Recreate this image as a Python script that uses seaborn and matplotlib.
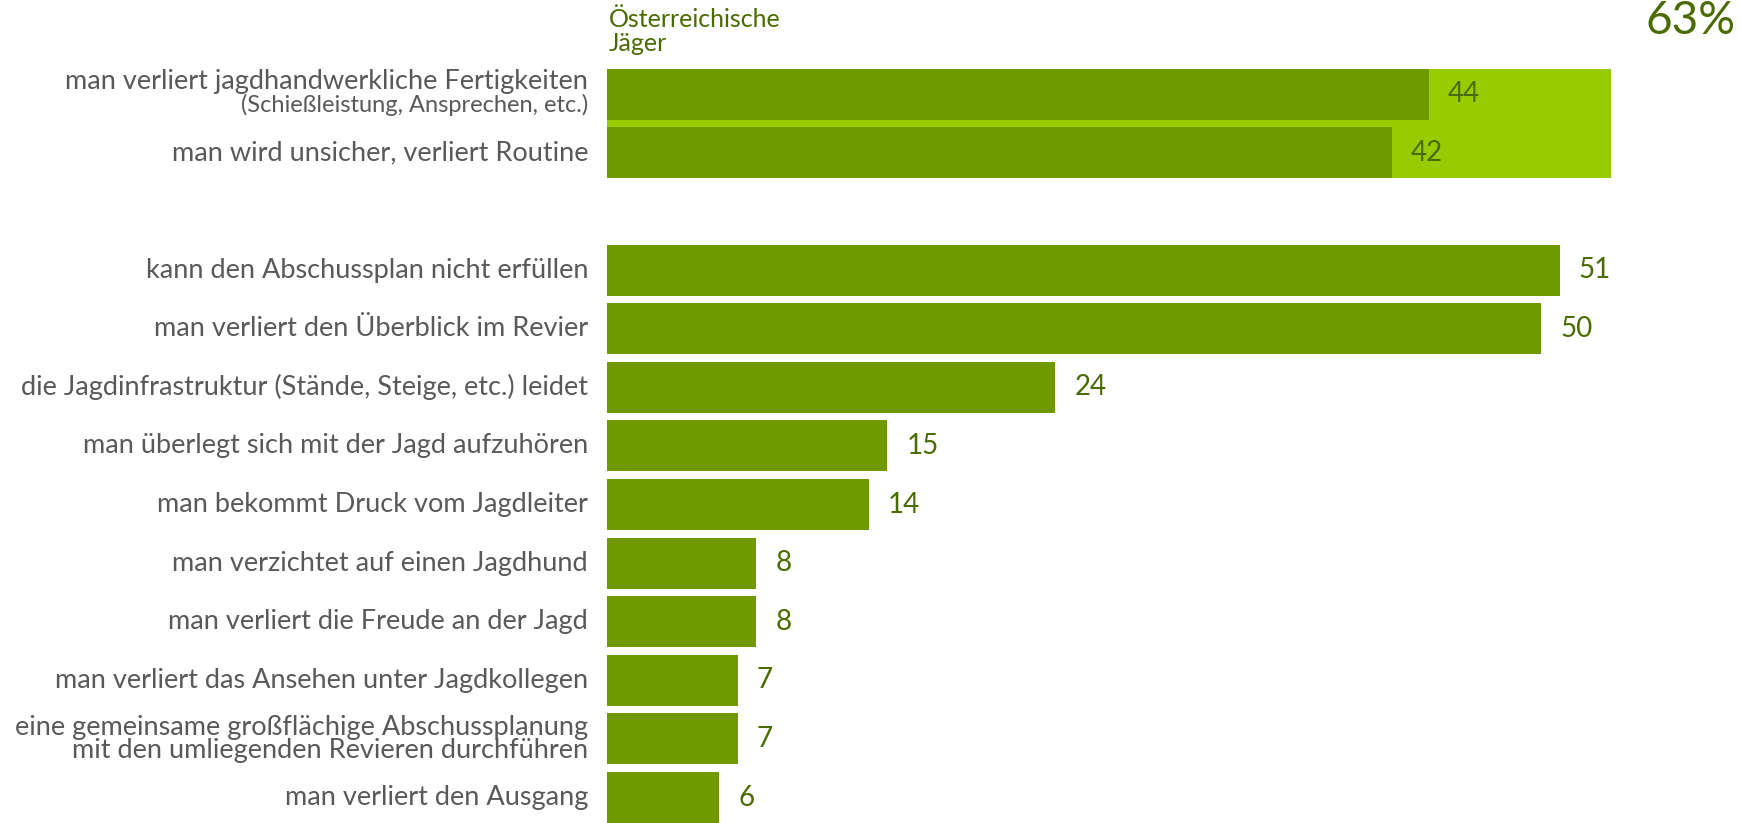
import numpy as np
import pandas as pd
import matplotlib
matplotlib.use("Agg")
import matplotlib.pyplot as plt
import matplotlib.transforms as mtransforms
import seaborn as sns

labels = [
    "man verliert jagdhandwerkliche Fertigkeiten",
    "man wird unsicher, verliert Routine",
    "kann den Abschussplan nicht erfüllen",
    "man verliert den Überblick im Revier",
    "die Jagdinfrastruktur (Stände, Steige, etc.) leidet",
    "man überlegt sich mit der Jagd aufzuhören",
    "man bekommt Druck vom Jagdleiter",
    "man verzichtet auf einen Jagdhund",
    "man verliert die Freude an der Jagd",
    "man verliert das Ansehen unter Jagdkollegen",
    "eine gemeinsame großflächige Abschussplanung\nmit den umliegenden Revieren durchführen",
    "man verliert den Ausgang",
]
values = [44, 42, 51, 50, 24, 15, 14, 8, 8, 7, 7, 6]
slots = [0, 1, 3, 4, 5, 6, 7, 8, 9, 10, 11, 12]
net_value = 63
net_slot = 0.5
series_name = "Österreichische\nJäger"

DARK = "#709900"
LIGHT = "#99cc00"
TXT_GREEN = "#4a6b00"
GREY = "#595959"

sns.set_theme(style="white")
plt.rcParams["font.family"] = ["Lato", "DejaVu Sans"]

fig = plt.figure(figsize=(17.39, 8.23), dpi=100)
ax = fig.add_axes([607 / 1739, 0, 1 - 607 / 1739, 1])
ax2 = ax.twiny()

df = pd.DataFrame({"slot": slots, "value": values})
net = pd.DataFrame({"slot": [net_slot], "value": [net_value]})

# net bar (light) behind, on its own scale
sns.barplot(data=net, x="value", y="slot", orient="h", native_scale=True,
            color=LIGHT, saturation=1, width=1.87, linewidth=0, ax=ax)
sns.barplot(data=df, x="value", y="slot", orient="h", native_scale=True,
            color=DARK, saturation=1, width=0.87, linewidth=0, ax=ax2)

ax.set_xlim(0, 71)
ax2.set_xlim(0, 60.6)
ax.set_ylim(12.435, -1.609)

for a in (ax, ax2):
    a.set_xticks([])
    a.set_yticks([])
    a.set_xlabel("")
    a.set_ylabel("")
    for s in a.spines.values():
        s.set_visible(False)

off = mtransforms.offset_copy(ax2.transData, fig=fig, x=19, y=0, units="dots")
for v, s in zip(values, slots):
    ax2.text(v, s, str(v), transform=off, ha="left", va="center",
             fontsize=20, color=TXT_GREEN)

lab_tr = mtransforms.offset_copy(
    mtransforms.blended_transform_factory(ax.transAxes, ax.transData),
    fig=fig, x=-19, y=0, units="dots")
for lab, s in zip(labels, slots):
    if s == 0:
        ax.text(0, s - 0.21, lab, transform=lab_tr, ha="right", va="center",
                fontsize=19.5, color=GREY)
        ax.text(0, s + 0.19, "(Schießleistung, Ansprechen, etc.)", transform=lab_tr,
                ha="right", va="center", fontsize=17, color=GREY)
    else:
        ax.text(0, s, lab, transform=lab_tr, ha="right", va="center",
                fontsize=19.5, color=GREY, linespacing=0.9, multialignment="right")

fig.text(609 / 1739, 1 - 8 / 823, series_name, ha="left", va="top",
         fontsize=18, color=TXT_GREEN, linespacing=1.05)
fig.text(1736 / 1739, 1 - 21 / 823, f"{net_value}%", ha="right", va="center",
         fontsize=33, color=TXT_GREEN)

fig.savefig("out.png", dpi=100)
